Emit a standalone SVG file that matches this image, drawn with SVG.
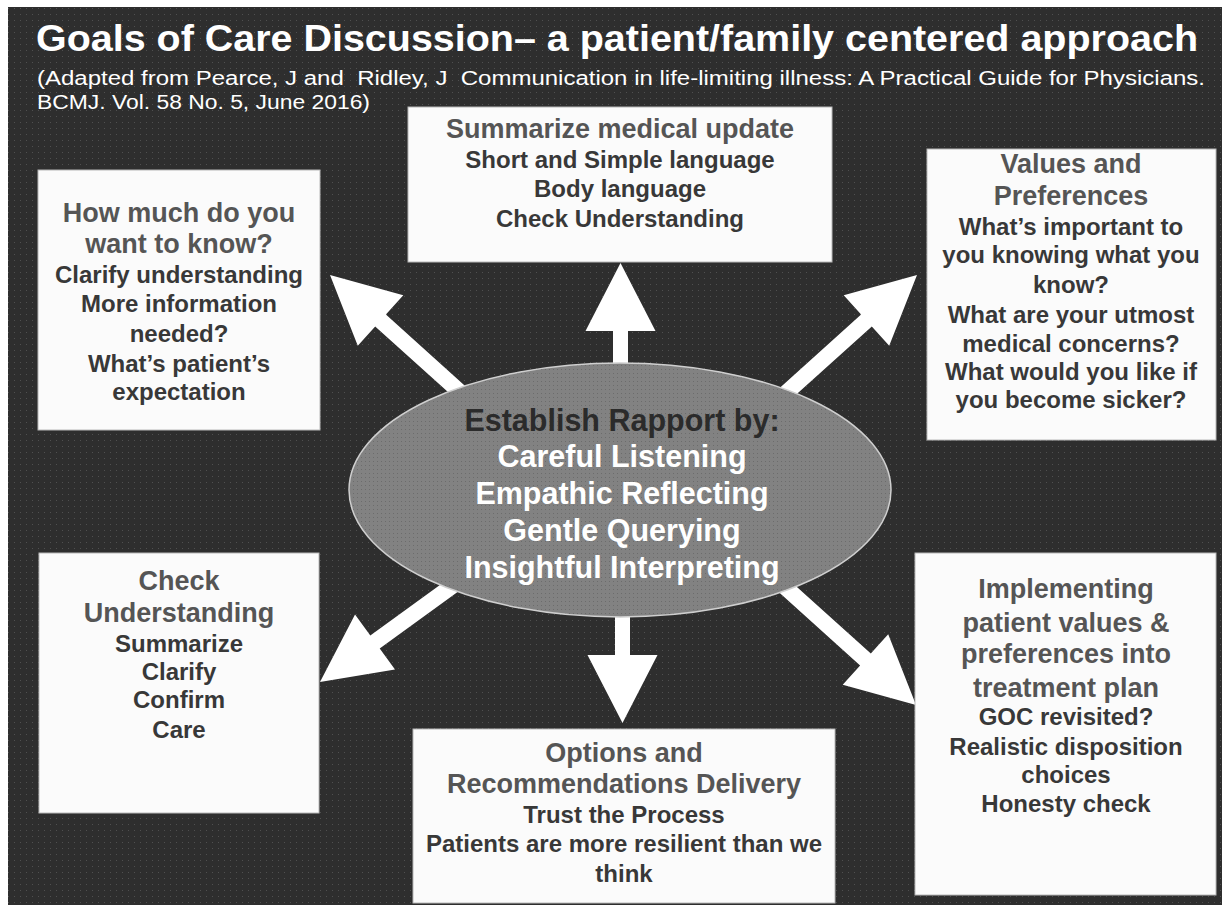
<svg xmlns="http://www.w3.org/2000/svg" width="1222" height="905" viewBox="0 0 1222 905">
<defs>
<pattern id="dots" width="6" height="6" patternUnits="userSpaceOnUse">
<rect width="6" height="6" fill="#2e2e2e"/>
<rect x="2" y="2" width="1" height="1" fill="#505050"/>
</pattern>
<pattern id="edots" width="4" height="4" patternUnits="userSpaceOnUse">
<rect width="4" height="4" fill="#828282"/>
<rect x="1" y="1" width="1" height="1" fill="#6c6c6c"/>
</pattern>
</defs>
<style>
.box{fill:#fbfbfb;stroke:#b8b8b8;stroke-width:1}
.arrow{fill:#ffffff}
text{font-family:"Liberation Sans",Arial,sans-serif;font-weight:bold;text-anchor:middle}
.h{font-size:27px;fill:#555555}
.b{font-size:24px;fill:#383838}
.et{font-size:30.5px;fill:#ffffff}
.ed{font-size:30.5px;fill:#2b2b2b}
.title{font-size:36px;fill:#ffffff;text-anchor:start}
.sub{font-size:20px;font-weight:normal;fill:#ffffff;text-anchor:start}
</style>
<rect x="0" y="0" width="1222" height="905" fill="#ffffff"/>
<rect x="8" y="7" width="1214" height="898" fill="url(#dots)"/>
<g id="header">
<text class="title" x="36" y="51" textLength="1162" lengthAdjust="spacingAndGlyphs">Goals of Care Discussion– a patient/family centered approach</text>
<text class="sub" x="37" y="85" textLength="1168" lengthAdjust="spacingAndGlyphs" xml:space="preserve">(Adapted from Pearce, J and  Ridley, J  Communication in life-limiting illness: A Practical Guide for Physicians.</text>
<text class="sub" x="37" y="109" textLength="333" lengthAdjust="spacingAndGlyphs">BCMJ. Vol. 58 No. 5, June 2016)</text>
</g>
<g id="connectors">
<polygon class="arrow" transform="translate(620.5,263) rotate(-90)" points="0,0 -68,-35 -68,-7.5 -117,-7.5 -117,7.5 -68,7.5 -68,35"/>
<polygon class="arrow" transform="translate(622.5,723) rotate(90)" points="0,0 -68,-35 -68,-7.5 -123,-7.5 -123,7.5 -68,7.5 -68,35"/>
<polygon class="arrow" transform="translate(330,275) rotate(-138)" points="0,0 -68,-34 -68,-8 -200,-8 -200,8 -68,8 -68,34"/>
<polygon class="arrow" transform="translate(917,275) rotate(-42)" points="0,0 -68,-34 -68,-8 -200,-8 -200,8 -68,8 -68,34"/>
<polygon class="arrow" transform="translate(320,682) rotate(144)" points="0,0 -68,-34 -68,-8 -200,-8 -200,8 -68,8 -68,34"/>
<polygon class="arrow" transform="translate(916,705) rotate(42)" points="0,0 -68,-34 -68,-8 -200,-8 -200,8 -68,8 -68,34"/>
</g>
<g id="center">
<ellipse cx="620" cy="490" rx="271" ry="127" fill="url(#edots)" stroke="#cfcfcf" stroke-width="1.5"/>
<text class="ed" x="622" y="431">Establish Rapport by:</text>
<text class="et" x="622" y="467">Careful Listening</text>
<text class="et" x="622" y="504">Empathic Reflecting</text>
<text class="et" x="622" y="541">Gentle Querying</text>
<text class="et" x="622" y="578">Insightful Interpreting</text>
</g>
<g id="summarize">
<rect class="box" x="408" y="107" width="424" height="155"/>
<text class="h" x="620" y="138">Summarize medical update</text>
<text class="b" x="620" y="168">Short and Simple language</text>
<text class="b" x="620" y="197">Body language</text>
<text class="b" x="620" y="227">Check Understanding</text>
</g>
<g id="howmuch">
<rect class="box" x="38" y="170" width="282" height="260"/>
<text class="h" x="179" y="222">How much do you</text>
<text class="h" x="179" y="253">want to know?</text>
<text class="b" x="179" y="283">Clarify understanding</text>
<text class="b" x="179" y="312">More information</text>
<text class="b" x="179" y="342">needed?</text>
<text class="b" x="179" y="372">What’s patient’s</text>
<text class="b" x="179" y="400">expectation</text>
</g>
<g id="values">
<rect class="box" x="927" y="149" width="289" height="291"/>
<text class="h" x="1071" y="173">Values and</text>
<text class="h" x="1071" y="205">Preferences</text>
<text class="b" x="1071" y="235">What’s important to</text>
<text class="b" x="1071" y="263">you knowing what you</text>
<text class="b" x="1071" y="293">know?</text>
<text class="b" x="1071" y="323">What are your utmost</text>
<text class="b" x="1071" y="352">medical concerns?</text>
<text class="b" x="1071" y="380">What would you like if</text>
<text class="b" x="1071" y="408">you become sicker?</text>
</g>
<g id="check">
<rect class="box" x="39" y="553" width="280" height="260"/>
<text class="h" x="179" y="590">Check</text>
<text class="h" x="179" y="622">Understanding</text>
<text class="b" x="179" y="652">Summarize</text>
<text class="b" x="179" y="680">Clarify</text>
<text class="b" x="179" y="708">Confirm</text>
<text class="b" x="179" y="738">Care</text>
</g>
<g id="implementing">
<rect class="box" x="915" y="553" width="301" height="342"/>
<text class="h" x="1066" y="598">Implementing</text>
<text class="h" x="1066" y="632">patient values &amp;</text>
<text class="h" x="1066" y="663">preferences into</text>
<text class="h" x="1066" y="697">treatment plan</text>
<text class="b" x="1066" y="725">GOC revisited?</text>
<text class="b" x="1066" y="755">Realistic disposition</text>
<text class="b" x="1066" y="783">choices</text>
<text class="b" x="1066" y="812">Honesty check</text>
</g>
<g id="options">
<rect class="box" x="413" y="729" width="422" height="174"/>
<text class="h" x="624" y="762">Options and</text>
<text class="h" x="624" y="793">Recommendations Delivery</text>
<text class="b" x="624" y="823">Trust the Process</text>
<text class="b" x="624" y="852">Patients are more resilient than we</text>
<text class="b" x="624" y="882">think</text>
</g>
</svg>
